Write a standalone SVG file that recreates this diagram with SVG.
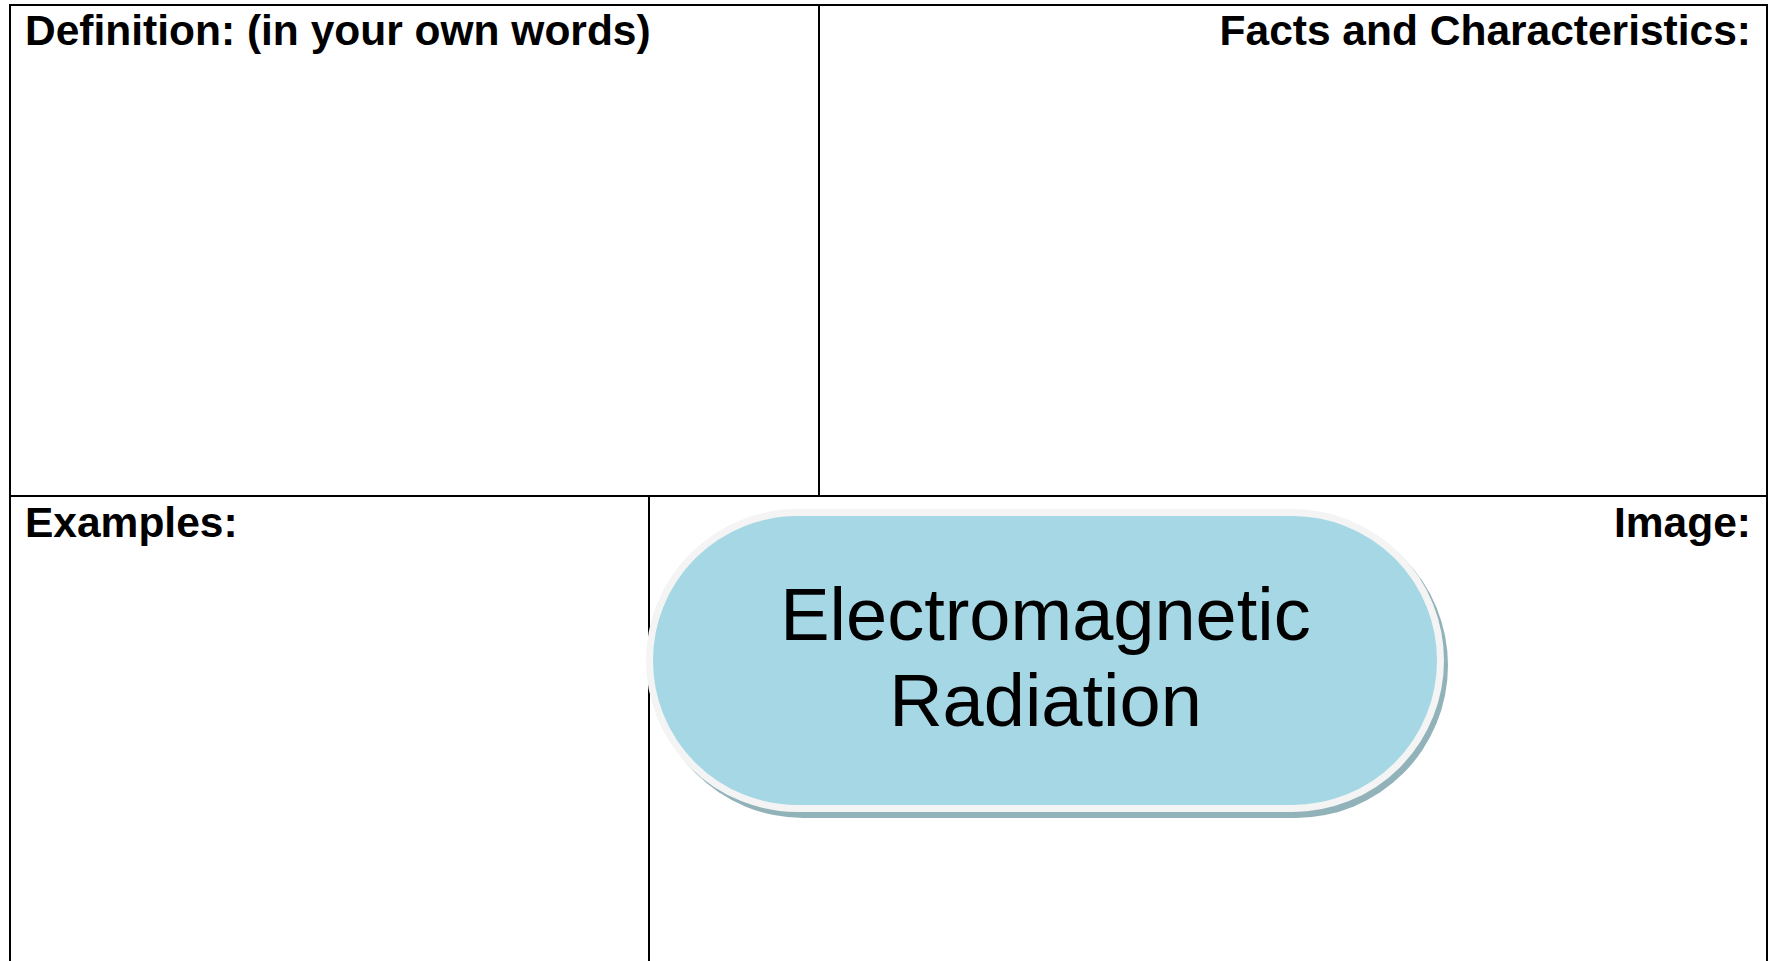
<svg xmlns="http://www.w3.org/2000/svg" width="1771" height="961" viewBox="0 0 1771 961">
<style>
.grid{stroke:#000;stroke-width:2;fill:none}
.lbl{font-family:"Liberation Sans",Arial,sans-serif;font-weight:bold;font-size:42.5px;fill:#000}
.title{font-family:"Liberation Sans",Arial,sans-serif;font-size:74px;fill:#000;text-anchor:middle}
</style>
<rect width="1771" height="961" fill="#fff"/>
<g id="grid">
<path class="grid" d="M10,962 V5 H1767 V962"/>
<line class="grid" x1="10" y1="496" x2="1767" y2="496"/>
<line class="grid" x1="819" y1="5" x2="819" y2="496"/>
<line class="grid" x1="649" y1="496" x2="649" y2="962"/>
</g>
<g id="definition"><text class="lbl" x="25" y="45">Definition: (in your own words)</text></g>
<g id="facts"><text class="lbl" x="1751" y="45" text-anchor="end">Facts and Characteristics:</text></g>
<g id="examples"><text class="lbl" x="25" y="537">Examples:</text></g>
<g id="image"><text class="lbl" x="1751" y="537" text-anchor="end">Image:</text></g>
<g id="center">
<rect x="651" y="513" width="797" height="305" rx="152.5" fill="#92b2ba"/>
<rect x="649.5" y="512.5" width="791" height="296" rx="148" fill="#a5d7e5" stroke="#f4f4f4" stroke-width="7"/>
<text class="title" x="1045.5" y="640">Electromagnetic</text>
<text class="title" x="1045.5" y="726">Radiation</text>
</g>
</svg>
